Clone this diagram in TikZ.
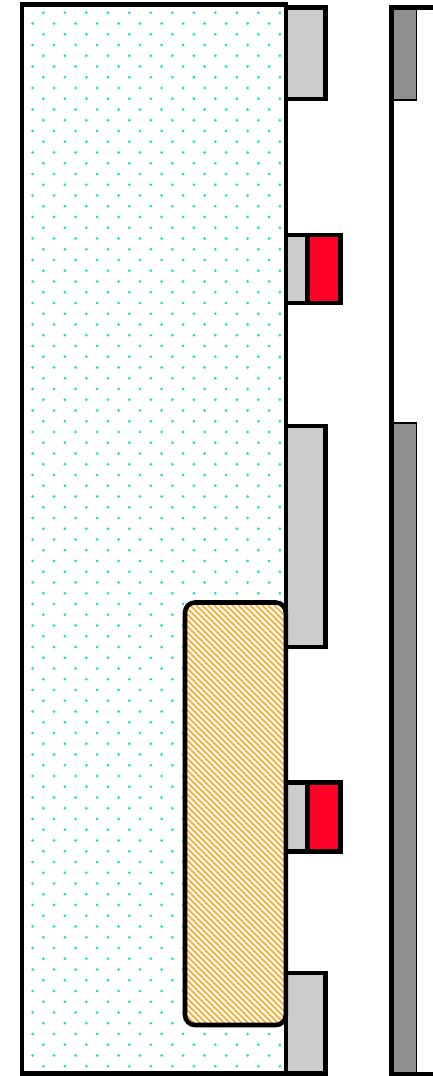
\documentclass[tikz,border=0pt]{standalone}
\definecolor{lgray}{HTML}{CCCCCC}
\definecolor{dgray}{HTML}{8F8F8F}
\definecolor{redc}{HTML}{FF0028}
\definecolor{dotc}{HTML}{18E0C8}
\definecolor{hatchc}{HTML}{FFA51A}
\begin{document}
\begin{tikzpicture}[x=1pt,y=-1pt,
  heavy/.style={draw=black,line width=4.6pt},
  padbox/.style={heavy,fill=lgray},
  redbox/.style={heavy,fill=redc},
  strip/.style={draw=black,line width=1.5pt,fill=dgray},
  hatchline/.style={draw=hatchc,line width=1.7pt}]
\useasboundingbox (0,0) rectangle (432,1076);
% main body
\fill[white] (22,4.5) rectangle (285.8,1073.5);
\begin{scope}
  \clip (22,4.5) rectangle (285.8,1073.5);
  \foreach \i in {0,...,100}{
    \pgfmathsetmacro{\xo}{mod(\i,2)==1 ? 0.3 : 11.05}
    \foreach \k in {0,...,13}{
      \fill[dotc] ({\xo+21.5*\k},{1.95+10.75*\i}) circle[radius=1.5pt];
    }
  }
\end{scope}
% pads on the right of the body
\draw[padbox] (285.8,7.5) rectangle (325.2,99);
\draw[padbox] (285.8,235) rectangle (307.5,303);
\draw[redbox] (307.5,235) rectangle (340.5,303);
\draw[padbox] (285.8,425.8) rectangle (325.2,647);
\draw[padbox] (285.8,782.5) rectangle (307.5,851.5);
\draw[redbox] (307.5,782.5) rectangle (340.5,851.5);
\draw[padbox] (285.8,973) rectangle (325.2,1073.5);
% hatched block
\fill[white,rounded corners=10pt] (185,602.5) rectangle (285.8,1025);
\begin{scope}
  \clip[rounded corners=10pt] (185,602.5) rectangle (285.8,1025);
  \foreach \c in {-432,-426,...,108}{
    \draw[hatchline] ({185+\c},600) -- ({185+\c+430},1030);
  }
\end{scope}
\draw[heavy,rounded corners=10pt] (185,602.5) rectangle (285.8,1025);
% body outline
\draw[heavy] (22,4.5) rectangle (285.8,1073.5);
% right-hand part
\draw[strip] (391.2,7.5) rectangle (416.5,100);
\draw[strip] (391.2,423.2) rectangle (416.5,1074);
\draw[heavy] (445,7.5) -- (391.2,7.5) -- (391.2,1074) -- (445,1074);
\end{tikzpicture}
\end{document}
